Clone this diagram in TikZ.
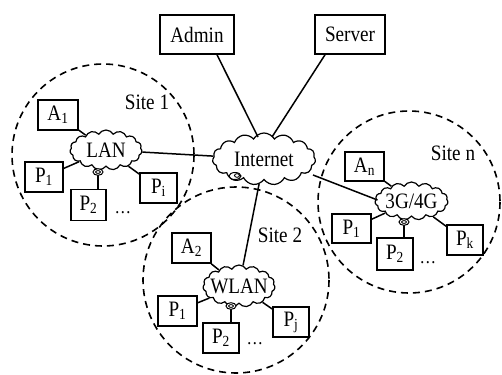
\documentclass[tikz,border=0pt]{standalone}
\usepackage{fontspec}
\setmainfont{Liberation Serif}[FakeStretch=0.87]
\usetikzlibrary{shapes.symbols,calc}
\begin{document}
\begin{tikzpicture}[x=1pt,y=-1pt,
 every node/.style={font=\fontsize{22}{26}\selectfont},
 box/.style={draw,line width=1.6pt,inner sep=0pt,fill=white},
 sbox/.style={box,minimum width=38pt,minimum height=30pt},
 net/.style={draw,cloud,cloud puffs=15,cloud puff arc=120,line width=1.2pt,inner sep=0pt,fill=white},
 wire/.style={line width=1.5pt},
 site/.style={draw,dash pattern=on 7pt off 5pt,line width=1.6pt},
 lbl/.style={inner sep=0pt},
 dotsl/.style={inner sep=0pt,anchor=base,font=\fontsize{19}{22}\selectfont},
]
\useasboundingbox (0,0) rectangle (502,374);
% sites
\draw[site] (103,155) circle (91);
\draw[site] (236,280) circle (93);
\draw[site] (409,202) circle (91);
\node[lbl] (s1) at (147,102) {Site 1};
\node[lbl] (s2) at (280,235) {Site 2};
\node[lbl] (sn) at (453,153) {Site n};
% top
\node[box,minimum width=74pt,minimum height=39pt] (Admin) at (197,34.5) {Admin};
\node[box,minimum width=70pt,minimum height=39pt] (Server) at (350,34.5) {Server};
% clouds
\node[net,minimum width=103pt,minimum height=52pt] (Internet) at (264,159) {\makebox[0pt]{Internet}};
\node[net,minimum width=72pt,minimum height=40pt] (LAN) at (106,150) {\makebox[0pt]{LAN}};
\node[net,minimum width=72pt,minimum height=42pt] (WLAN) at (239,286) {\makebox[0pt]{WLAN}};
\node[net,minimum width=73pt,minimum height=38pt] (G) at (411.5,201) {\makebox[0pt]{3G/4G}};
% site 1
\node[sbox,minimum width=40pt] (A1) at (58,115) {A\textsubscript{1}};
\node[sbox] (P11) at (44,177) {P\textsubscript{1}};
\node[sbox,minimum width=35pt,minimum height=31pt] (P12) at (88.5,205) {P\textsubscript{2}};
\node[sbox,minimum width=37pt] (P1i) at (158.5,188) {P\textsubscript{i}};
\node[dotsl] (d1) at (123,213) {…};
% site 2
\node[sbox,minimum width=39pt] (A2) at (191.5,248) {A\textsubscript{2}};
\node[sbox,minimum width=39pt] (P21) at (177.5,311) {P\textsubscript{1}};
\node[sbox,minimum width=36pt] (P22) at (221,338) {P\textsubscript{2}};
\node[sbox,minimum width=36pt] (P2j) at (291,322) {P\textsubscript{j}};
\node[dotsl] (d2) at (255,344) {…};
% site n
\node[sbox,minimum width=39pt,minimum height=29pt] (An) at (364.5,166.5) {A\textsubscript{n}};
\node[sbox,minimum width=39pt,minimum height=29pt] (Pn1) at (351.5,228.5) {P\textsubscript{1}};
\node[sbox,minimum width=36pt,minimum height=32pt] (Pn2) at (395,254) {P\textsubscript{2}};
\node[sbox,minimum width=36pt] (Pnk) at (465,240) {P\textsubscript{k}};
\node[dotsl] (dn) at (428,263) {…};
% connectors
\draw[wire] ($(Admin.south)+(20,0)$) -- ($(Internet)+(-6,-22)$);
\draw[wire] ($(Server.south)+(-25,0)$) -- ($(Internet)+(8,-22)$);
\draw[wire] (LAN) -- (Internet);
\draw[wire] (Internet) -- (WLAN);
\draw[wire] ($(Internet)+(49,16)$) -- ($(G)+(-34,-1)$);
\draw[wire] (A1) -- (LAN);
\draw[wire] (P11) -- (LAN);
\draw[wire] (P1i) -- (LAN);
\draw[wire] (A2) -- (WLAN);
\draw[wire] (P21) -- (WLAN);
\draw[wire] (P2j) -- (WLAN);
\draw[wire] (An) -- (G);
\draw[wire] (Pn1) -- (G);
\draw[wire] (Pnk) -- (G);
% icons
\coordinate (i1) at (98,172);
\coordinate (i2) at (231,306);
\coordinate (i3) at (404,222);
\coordinate (i0) at (235,176);
\foreach \i/\p in {i1/P12,i2/P22,i3/Pn2}{
  \draw[wire] (\i) -- (\i |- \p.north);
  \draw[line width=1pt,fill=white] (\i) ellipse [x radius=5pt,y radius=3.3pt];
  \draw[line width=0.9pt] (\i) ellipse [x radius=2.4pt,y radius=1.4pt];
}
\draw[line width=1pt,fill=white] (i0) ellipse [x radius=6pt,y radius=3.5pt];
\draw[line width=0.9pt] ($(i0)+(2,-0.5)$) ellipse [x radius=2.5pt,y radius=1.8pt];
\end{tikzpicture}
\end{document}
